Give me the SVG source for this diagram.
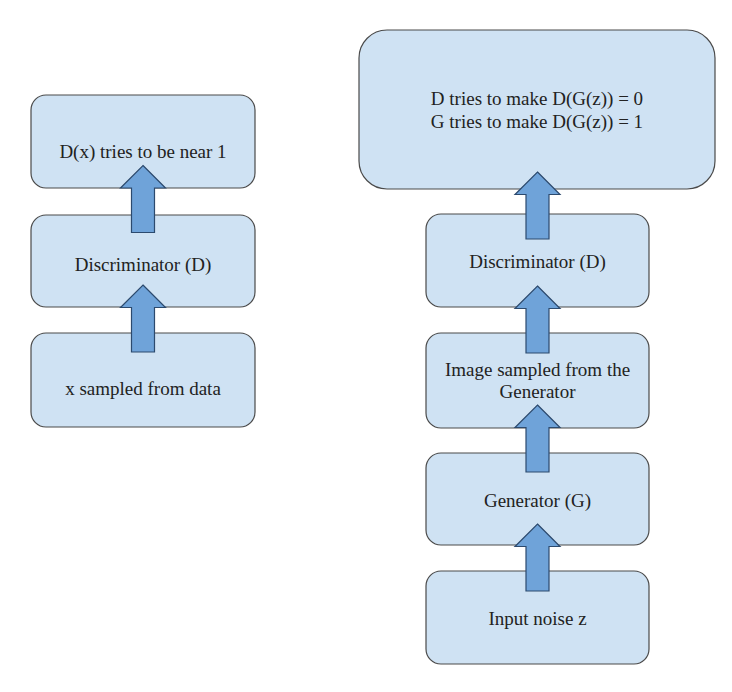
<svg xmlns="http://www.w3.org/2000/svg" xmlns:xlink="http://www.w3.org/1999/xlink" width="732" height="692" viewBox="0 0 732 692">
  <style>
    .box { fill: #cfe2f3; stroke: #4a4a4a; stroke-width: 1.2; }
    .lbl { font-family: "Liberation Serif", "Times New Roman", serif; font-size: 19px; fill: #222222; text-anchor: middle; }
    .arrow { fill: #6fa3d9; stroke: #2c4a6e; stroke-width: 1.2; stroke-linejoin: miter; }
  </style>
  <defs>
    <polygon id="uparrow" class="arrow" points="0,0 22.5,22.5 11.5,22.5 11.5,67 -11.5,67 -11.5,22.5 -22.5,22.5"/>
  </defs>
  <rect width="732" height="692" fill="#ffffff"/>

  <g id="left-output">
    <rect class="box" x="31" y="95" width="224" height="93" rx="15" ry="15"/>
    <text class="lbl" x="143" y="158">D(x) tries to be near 1</text>
  </g>
  <g id="left-discriminator">
    <rect class="box" x="31" y="215" width="224" height="92" rx="15" ry="15"/>
    <text class="lbl" x="143" y="271">Discriminator (D)</text>
  </g>
  <g id="left-data">
    <rect class="box" x="31" y="333" width="224" height="94" rx="15" ry="15"/>
    <text class="lbl" x="143" y="395">x sampled from data</text>
  </g>

  <g id="right-output">
    <rect class="box" x="359" y="30" width="356" height="159" rx="28" ry="28"/>
    <text class="lbl" x="537" y="105">D tries to make D(G(z)) = 0</text>
    <text class="lbl" x="537" y="128">G tries to make D(G(z)) = 1</text>
  </g>
  <g id="right-discriminator">
    <rect class="box" x="426" y="214" width="223" height="93" rx="15" ry="15"/>
    <text class="lbl" x="537.5" y="268">Discriminator (D)</text>
  </g>
  <g id="right-image">
    <rect class="box" x="426" y="333" width="223" height="95" rx="15" ry="15"/>
    <text class="lbl" x="537.5" y="376">Image sampled from the</text>
    <text class="lbl" x="537.5" y="398">Generator</text>
  </g>
  <g id="right-generator">
    <rect class="box" x="426" y="453" width="223" height="92" rx="15" ry="15"/>
    <text class="lbl" x="537.5" y="507">Generator (G)</text>
  </g>
  <g id="right-noise">
    <rect class="box" x="426" y="571" width="223" height="93" rx="15" ry="15"/>
    <text class="lbl" x="537.5" y="625">Input noise z</text>
  </g>

  <g id="connectors">
    <use xlink:href="#uparrow" href="#uparrow" x="143" y="165.5"/>
    <use xlink:href="#uparrow" href="#uparrow" x="143" y="285"/>
    <use xlink:href="#uparrow" href="#uparrow" x="537.5" y="172"/>
    <use xlink:href="#uparrow" href="#uparrow" x="537.5" y="286"/>
    <use xlink:href="#uparrow" href="#uparrow" x="537.5" y="405"/>
    <use xlink:href="#uparrow" href="#uparrow" x="537.5" y="524"/>
  </g>
</svg>
